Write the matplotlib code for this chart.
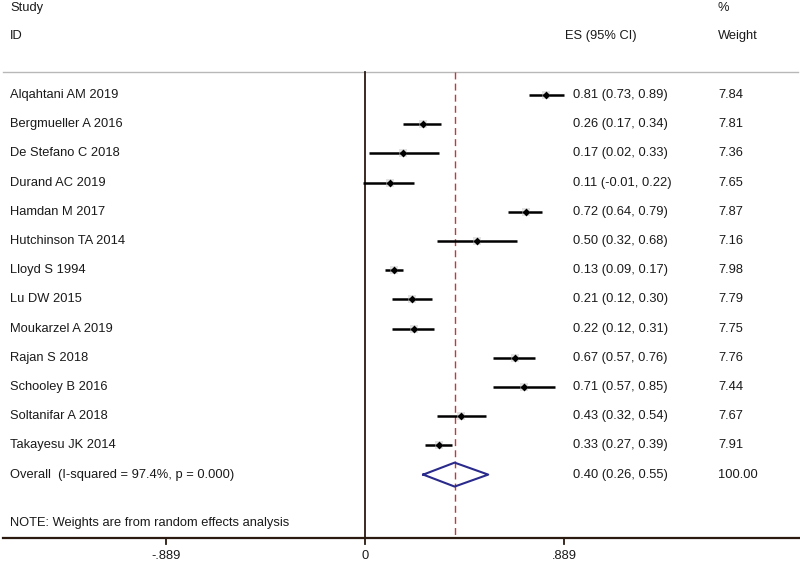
import numpy as np
import matplotlib
matplotlib.use("Agg")
import matplotlib.pyplot as plt
import matplotlib.transforms as mtransforms

plt.rcParams['font.family'] = ['Liberation Sans', 'DejaVu Sans']

studies = ["Alqahtani AM 2019", "Bergmueller A 2016", "De Stefano C 2018",
           "Durand AC 2019", "Hamdan M 2017", "Hutchinson TA 2014",
           "Lloyd S 1994", "Lu DW 2015", "Moukarzel A 2019", "Rajan S 2018",
           "Schooley B 2016", "Soltanifar A 2018", "Takayesu JK 2014"]
es = [0.81, 0.26, 0.17, 0.11, 0.72, 0.50, 0.13, 0.21, 0.22, 0.67, 0.71, 0.43, 0.33]
lo = [0.73, 0.17, 0.02, -0.01, 0.64, 0.32, 0.09, 0.12, 0.12, 0.57, 0.57, 0.32, 0.27]
hi = [0.89, 0.34, 0.33, 0.22, 0.79, 0.68, 0.17, 0.30, 0.31, 0.76, 0.85, 0.54, 0.39]
weights = [7.84, 7.81, 7.36, 7.65, 7.87, 7.16, 7.98, 7.79, 7.75, 7.76, 7.44, 7.67, 7.91]

overall_label = "Overall  (I-squared = 97.4%, p = 0.000)"
overall_es, overall_lo, overall_hi = 0.40, 0.26, 0.55
overall_weight = "100.00"
note = "NOTE: Weights are from random effects analysis"
xticks = [-0.889, 0, 0.889]
xticklabels = ["-.889", "0", ".889"]

# pixel layout helpers
W, H = 800, 566
row0, rowh = 95, 29.2
px_per_unit, x0_px = 224.0, 365


def prow(p):
    return (p - row0) / rowh


fig = plt.figure(figsize=(W / 100, H / 100), dpi=100)
ax = fig.add_axes([0, 0, 1, 1])
ax.set_xlim(-x0_px / px_per_unit, (W - x0_px) / px_per_unit)
ax.set_ylim(prow(H), prow(0))
ax.axis("off")

tc = '#1a1a1a'
fs = 9.3
blend = mtransforms.blended_transform_factory(ax.transAxes, ax.transData)

n = len(studies)
rows = np.arange(n)
y_top, y_axis = prow(72), prow(538)

# top rule and bottom axis
ax.plot([3 / W, 798 / W], [y_top, y_top], color='#b8b8b8', lw=1, transform=blend)
ax.plot([3 / W, 1.0], [y_axis, y_axis], color='#2a1a10', lw=1.6, transform=blend)
ax.plot([0, 0], [y_top, y_axis], color='#2a1a10', lw=1.3)
ax.plot([overall_es, overall_es], [y_top, y_axis], color='#c03a3a', lw=1,
        dashes=(5, 3))

for x, lab in zip(xticks, xticklabels):
    ax.plot([x, x], [y_axis, y_axis + 0.22], color='#2a1a10', lw=1.3)
    ax.text(x, prow(556), lab, ha='center', va='center', fontsize=fs, color=tc)

# study estimates
for i in range(n):
    ax.plot([lo[i], hi[i]], [rows[i], rows[i]], color='black', lw=1.8,
            solid_capstyle='butt')
ax.scatter(es, rows, marker='s', s=30, color='#c8c8c8', alpha=0.5, zorder=3,
           linewidths=0)
ax.scatter(es, rows, marker='D', s=16, color='black', zorder=4, linewidths=0)

# overall diamond
yo = n
dh = 0.41
ax.plot([overall_lo, overall_es, overall_hi, overall_es, overall_lo],
        [yo, yo - dh, yo, yo + dh, yo], color='#2a2a8c', lw=1.5, zorder=4)

# text columns
ax.text(10 / W, prow(8), "Study", transform=blend, fontsize=fs, color=tc, va='center')
ax.text(10 / W, prow(36), "ID", transform=blend, fontsize=fs, color=tc, va='center')
ax.text(565 / W, prow(36), "ES (95% CI)", transform=blend, fontsize=fs, color=tc, va='center')
ax.text(718 / W, prow(8), "%", transform=blend, fontsize=fs, color=tc, va='center')
ax.text(718 / W, prow(36), "Weight", transform=blend, fontsize=fs, color=tc, va='center')

for i in range(n):
    ax.text(10 / W, rows[i], studies[i], transform=blend, fontsize=fs, color=tc, va='center')
    ax.text(573 / W, rows[i], "%.2f (%.2f, %.2f)" % (es[i], lo[i], hi[i]),
            transform=blend, fontsize=fs, color=tc, va='center')
    ax.text(718 / W, rows[i], "%.2f" % weights[i], transform=blend,
            fontsize=fs, color=tc, va='center')

ax.text(10 / W, yo, overall_label, transform=blend, fontsize=fs, color=tc, va='center')
ax.text(573 / W, yo, "%.2f (%.2f, %.2f)" % (overall_es, overall_lo, overall_hi),
        transform=blend, fontsize=fs, color=tc, va='center')
ax.text(718 / W, yo, overall_weight, transform=blend, fontsize=fs, color=tc, va='center')
ax.text(10 / W, prow(523), note, transform=blend, fontsize=fs, color=tc, va='center')

fig.savefig("out.png", dpi=100)
